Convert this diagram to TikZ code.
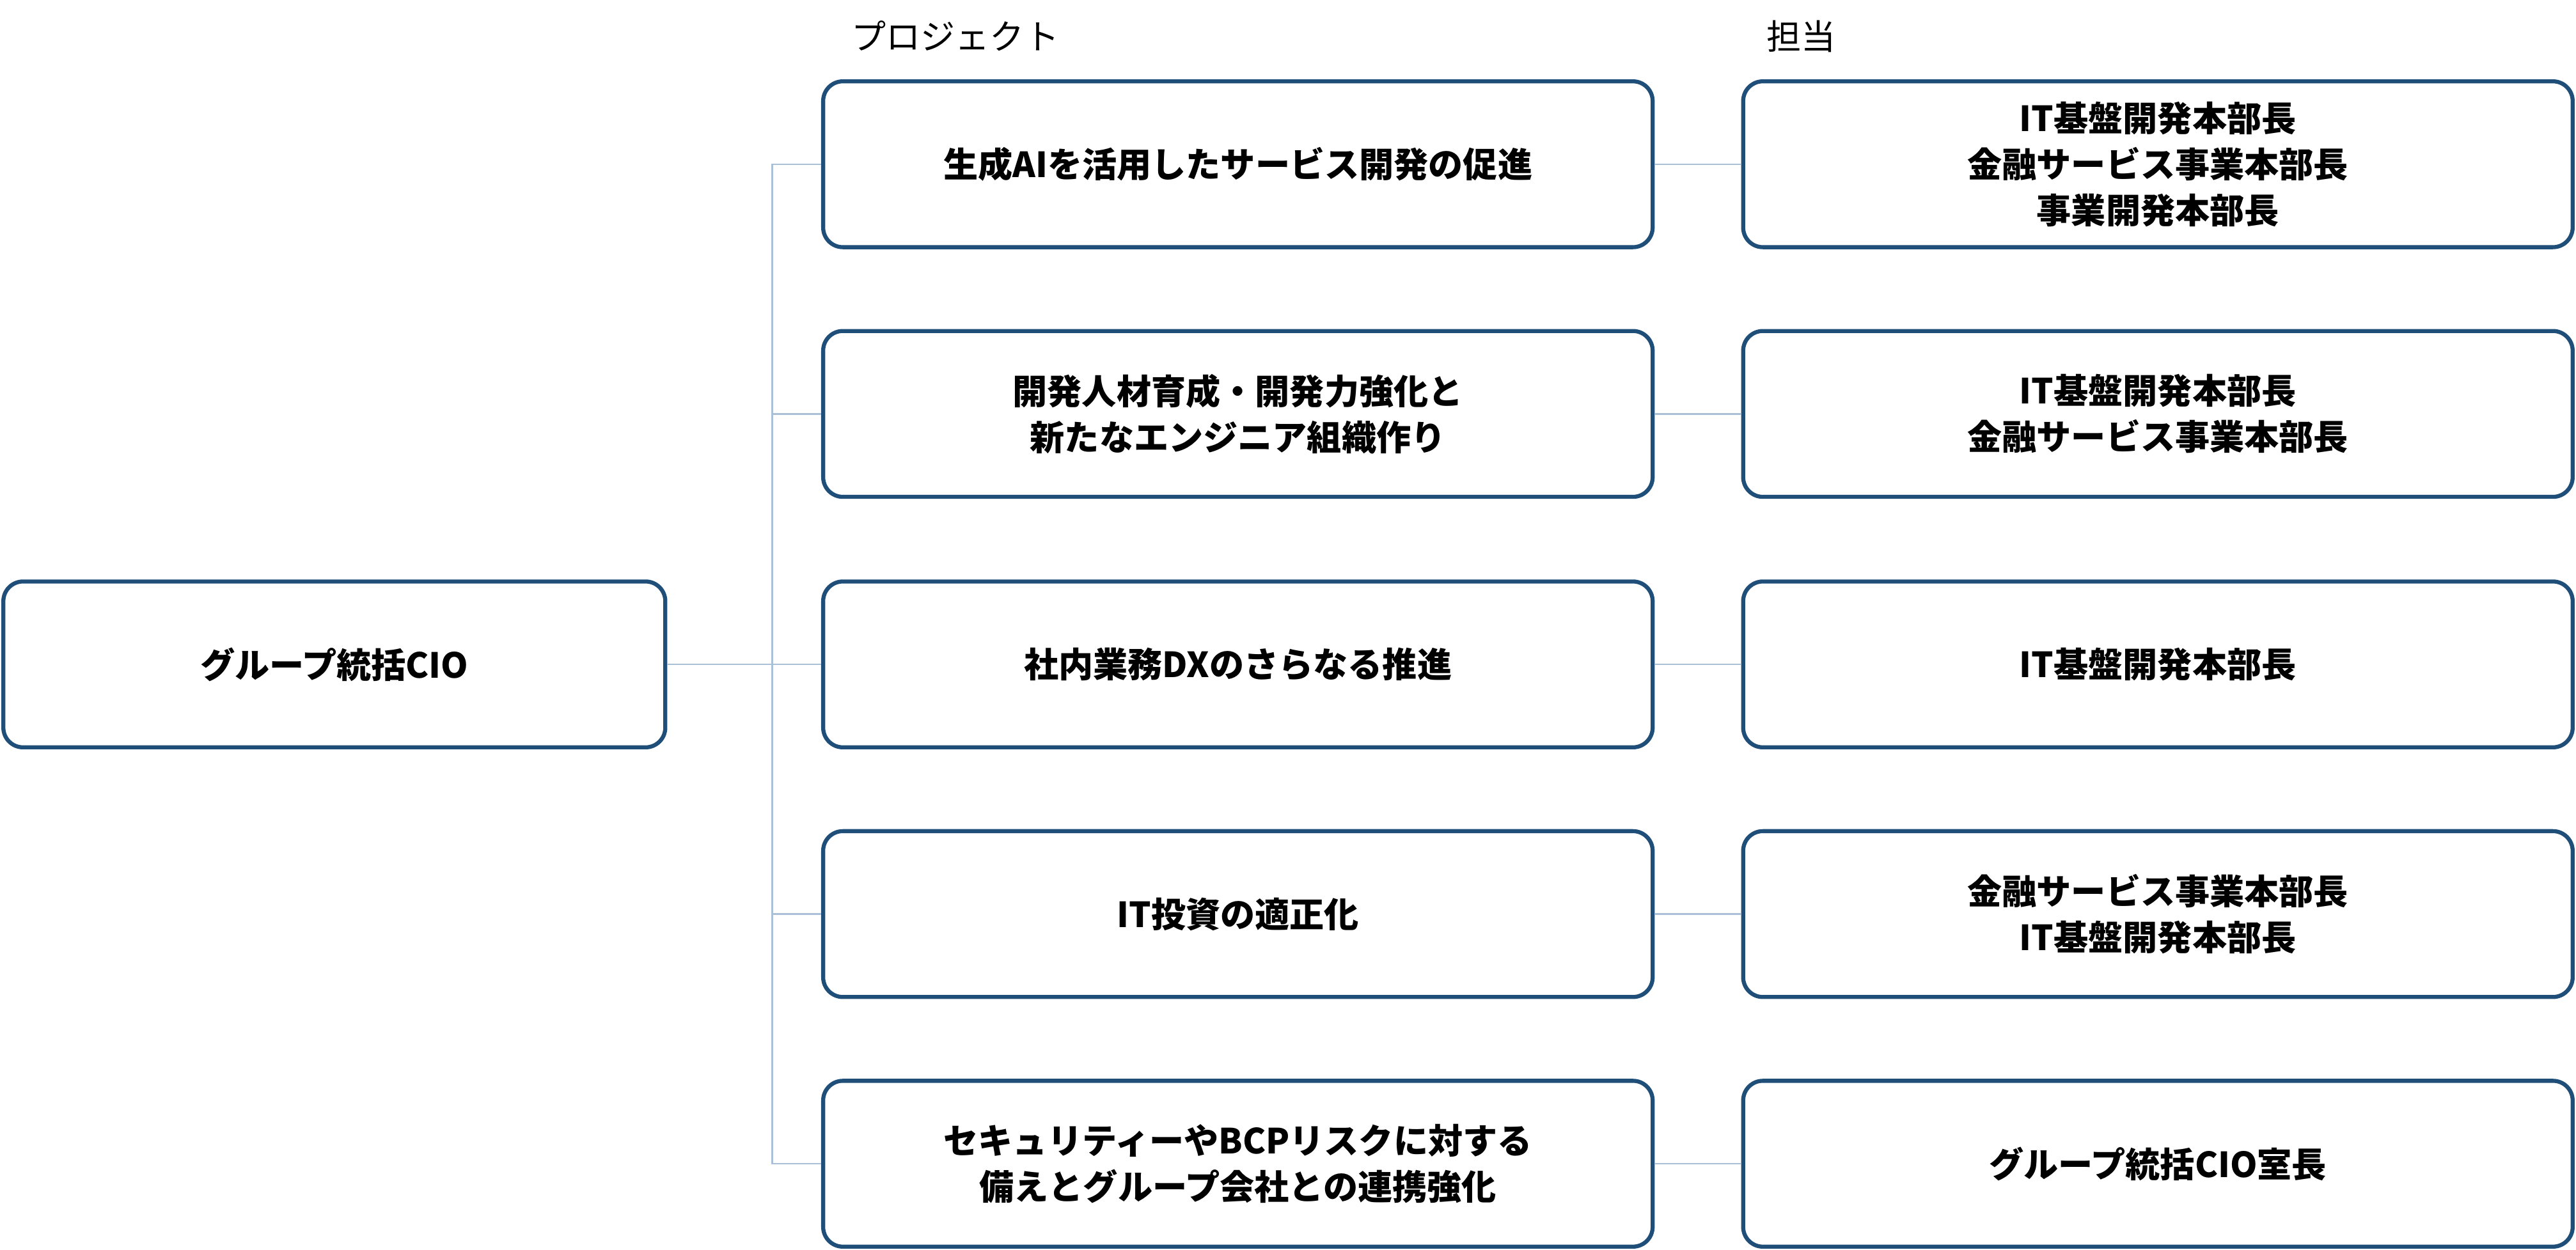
\documentclass[tikz,border=0pt]{standalone}
\usepackage{fontspec}
\setmainfont{Noto Sans CJK JP}
\usetikzlibrary{positioning}
\definecolor{boxblue}{HTML}{1F4E79}
\definecolor{linkblue}{HTML}{A9C0D6}
\tikzstyle{link} = [draw=linkblue,line width=0.6pt]
\begin{document}
\begin{tikzpicture}[x=0.02cm,y=-0.02cm,
                box/.style = {draw=boxblue, line width=1.4pt, rounded corners=0.24cm,
                  minimum width=10.1cm, minimum height=2.02cm, align=center,
                  font=\fontsize{12}{16}\selectfont\bfseries, fill=white},
                head/.style = {font=\fontsize{12}{16}\selectfont, anchor=west}]
                \useasboundingbox (0,0) rectangle (1568,761);
                \node[box, minimum width=8.06cm] (cio) at (203.5,404.5) {グループ統括CIO};
                \node[head] (hproj) at (512,22) {プロジェクト};
                \node[head] (hresp) at (1069,22) {担当};
                \node[box] (proj1) at (753.5,100) {生成AIを活用したサービス開発の促進};
                \node[box] (proj2) at (753.5,252) {開発人材育成・開発力強化と\\新たなエンジニア組織作り};
                \node[box] (proj3) at (753.5,404.5) {社内業務DXのさらなる推進};
                \node[box] (proj4) at (753.5,556.5) {IT投資の適正化};
                \node[box] (proj5) at (753.5,708.5) {セキュリティーやBCPリスクに対する\\備えとグループ会社との連携強化};
                \node[box] (resp1) at (1313.5,100) {IT基盤開発本部長\\金融サービス事業本部長\\事業開発本部長};
                \node[box] (resp2) at (1313.5,252) {IT基盤開発本部長\\金融サービス事業本部長};
                \node[box] (resp3) at (1313.5,404.5) {IT基盤開発本部長};
                \node[box] (resp4) at (1313.5,556.5) {金融サービス事業本部長\\IT基盤開発本部長};
                \node[box] (resp5) at (1313.5,708.5) {グループ統括CIO室長};
                \coordinate (trunk) at (470,404.5);
                \path[link] (cio) -- (trunk);
                \foreach \i in {1,...,5} {
                  \path[link] (trunk) |- (proj\i);
                  \path[link] (proj\i) -- (resp\i);
                }
            \end{tikzpicture}
\end{document}
